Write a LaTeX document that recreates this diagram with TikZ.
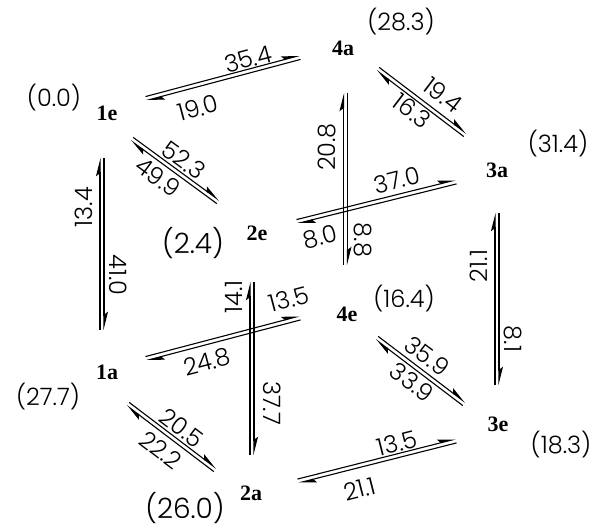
\documentclass[tikz,border=0pt]{standalone}
\usepackage{fontspec}
\usetikzlibrary{arrows.meta,calc}
\IfFontExistsTF{Poppins Light}{\newfontfamily\numf{Poppins Light}}{\newfontfamily\numf{Poppins}}
\newfontfamily\labf{Liberation Serif}
\tikzset{
  hline/.style={line width=1.1pt, -{Stealth[harpoon,length=16pt,width=8pt,inset=3pt]}},
  num/.style={inner sep=0pt, font=\numf\fontsize{24}{27}\selectfont},
  bignum/.style={inner sep=0pt, font=\numf\fontsize{28}{32}\selectfont},
  lab/.style={inner sep=0pt, font=\labf\bfseries\fontsize{22}{26}\selectfont},
}
\newcommand\pairlines[2]{%
  \draw[hline] ($(#1)!2pt!90:(#2)$) -- ($(#2)!2pt!-90:(#1)$);
  \draw[hline] ($(#2)!2pt!90:(#1)$) -- ($(#1)!2pt!-90:(#2)$);
}
\begin{document}
\begin{tikzpicture}[x=1pt,y=1pt]
\useasboundingbox (0,0) rectangle (601,527);
% state labels
\node[lab] (n1e) at (107,414) {1e};
\node[lab] (n4a) at (343,479) {4a};
\node[lab] (n3a) at (497,357) {3a};
\node[lab] (n2e) at (257,294) {2e};
\node[lab] (n4e) at (347,213) {4e};
\node[lab] (n1a) at (107,155) {1a};
\node[lab] (n3e) at (498,103) {3e};
\node[lab] (n2a) at (251,34) {2a};
% energies
\node[num] (e1e) at (54,429) {(0.0)};
\node[num] (e4a) at (401,505) {(28.3)};
\node[num] (e3a) at (558,383) {(31.4)};
\node[bignum] (e2e) at (193,284) {(2.4)};
\node[num] (e4e) at (404,228) {(16.4)};
\node[num] (e1a) at (48,130) {(27.7)};
\node[num] (e3e) at (561,82) {(18.3)};
\node[bignum] (e2a) at (185,19) {(26.0)};
% pair end points
\coordinate (p1a) at (146,428.5); \coordinate (p1b) at (300,469.5);
\coordinate (p2a) at (132,388);   \coordinate (p2b) at (218,325);
\coordinate (p3a) at (378,458);   \coordinate (p3b) at (465,392);
\coordinate (p4a) at (345.5,434); \coordinate (p4b) at (345.5,262);
\coordinate (p5a) at (297,305.5); \coordinate (p5b) at (456,345);
\coordinate (p6a) at (497,314);   \coordinate (p6b) at (497,142);
\coordinate (p7a) at (102,369);   \coordinate (p7b) at (102,197);
\coordinate (p8a) at (252,245);   \coordinate (p8b) at (252,72);
\coordinate (p9a) at (146,168.5); \coordinate (p9b) at (300,209);
\coordinate (p10a) at (377,189);  \coordinate (p10b) at (464,123);
\coordinate (p11a) at (128,123);  \coordinate (p11b) at (215,57);
\coordinate (p12a) at (298,46);   \coordinate (p12b) at (456,86);
\pairlines{p1a}{p1b}
\pairlines{p2a}{p2b}
\pairlines{p3a}{p3b}
\pairlines{p4a}{p4b}
\pairlines{p5a}{p5b}
\pairlines{p6a}{p6b}
\pairlines{p7a}{p7b}
\pairlines{p8a}{p8b}
\pairlines{p9a}{p9b}
\pairlines{p10a}{p10b}
\pairlines{p11a}{p11b}
\pairlines{p12a}{p12b}
% rate labels
\node[num,rotate=14.9] (r1f) at (248,468) {35.4};
\node[num,rotate=14.9] (r1r) at (198,419) {19.0};
\node[num,rotate=-36.2] (r2f) at (184,367) {52.3};
\node[num,rotate=-36.2] (r2r) at (158,350) {49.9};
\node[num,rotate=-37.2] (r3f) at (443,432) {19.4};
\node[num,rotate=-37.2] (r3r) at (412,416) {16.3};
\node[num,rotate=90] (r4r) at (327,380) {20.8};
\node[num,rotate=-90] (r4f) at (363,287) {8.8};
\node[num,rotate=14.1] (r5f) at (397,347) {37.0};
\node[num,rotate=14.1] (r5r) at (320,290) {8.0};
\node[num,rotate=90] (r6r) at (479,261) {21.1};
\node[num,rotate=-90] (r6f) at (513,188) {8.1};
\node[num,rotate=90] (r7r) at (84,320) {13.4};
\node[num,rotate=-90] (r7f) at (118,252) {41.0};
\node[num,rotate=90] (r8r) at (234,230) {14.1};
\node[num,rotate=-90] (r8f) at (272,124) {37.7};
\node[num,rotate=14.7] (r9f) at (289,228) {13.5};
\node[num,rotate=14.7] (r9r) at (207,165) {24.8};
\node[num,rotate=-37.2] (r10f) at (427,171) {35.9};
\node[num,rotate=-37.2] (r10r) at (412,145) {33.9};
\node[num,rotate=-37.2] (r11f) at (182,99) {20.5};
\node[num,rotate=-37.2] (r11r) at (161,77) {22.2};
\node[num,rotate=14.2] (r12f) at (397,84) {13.5};
\node[num,rotate=14.2] (r12r) at (360,38) {21.1};
\end{tikzpicture}
\end{document}
